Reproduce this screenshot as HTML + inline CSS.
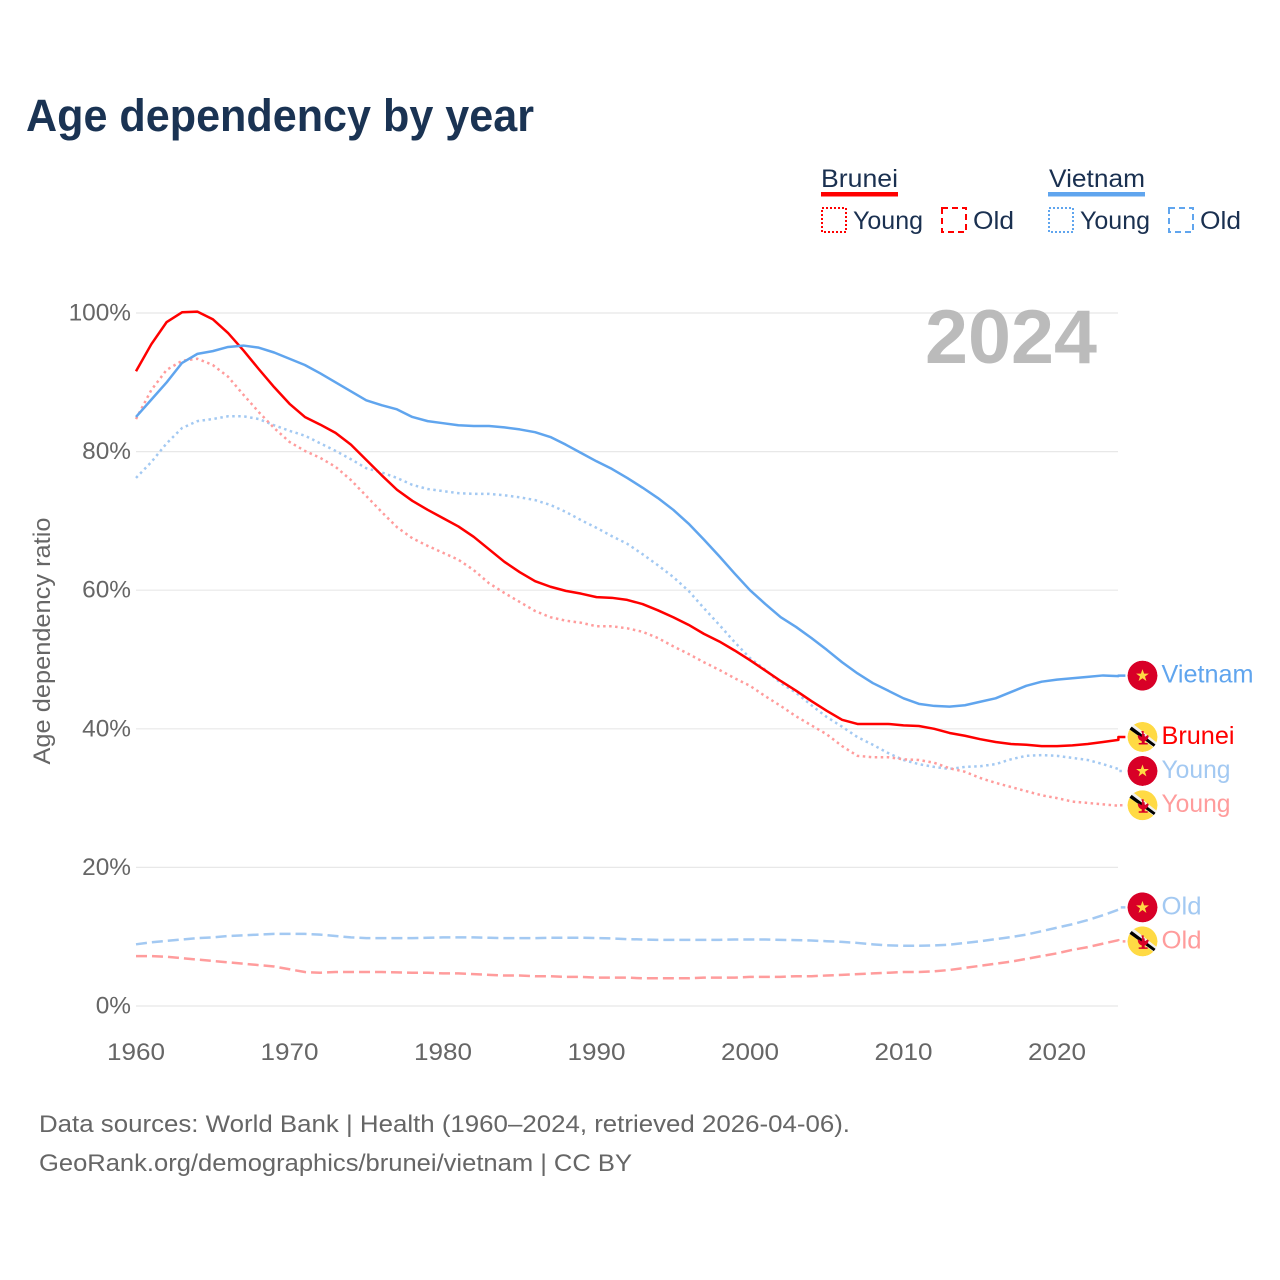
<!DOCTYPE html>
<html>
<head>
<meta charset="utf-8">
<title>Age dependency by year</title>
<style>
html,body{margin:0;padding:0;background:#fff;width:1280px;height:1280px;overflow:hidden}
svg{display:block}
text{font-family:"Liberation Sans",sans-serif}
.legend{font-size:25px;fill:#1a3050}
.tick{font-size:24.4px;fill:#666}
.foot{font-size:24.5px;fill:#666}
.end{font-size:25px}
</style>
</head>
<body>
<svg id="chart" width="1280" height="1280" viewBox="0 0 1280 1280" xmlns="http://www.w3.org/2000/svg">
  <rect width="1280" height="1280" fill="#fff"/>
  <text x="26" y="131" font-size="45" font-weight="700" fill="#1a3353" textLength="508" lengthAdjust="spacingAndGlyphs">Age dependency by year</text>

  <g>
    <text class="legend" x="821" y="187" textLength="77" lengthAdjust="spacingAndGlyphs">Brunei</text>
    <rect x="821" y="192" width="77" height="4.5" fill="#ff0000"/>
    <rect x="822" y="208" width="24" height="24" fill="none" stroke="#ff0000" stroke-width="2" stroke-dasharray="2 2"/>
    <text class="legend" x="853" y="229" textLength="70" lengthAdjust="spacingAndGlyphs">Young</text>
    <rect x="942" y="208" width="24" height="24" fill="none" stroke="#ff0000" stroke-width="2" stroke-dasharray="6 4"/>
    <text class="legend" x="973" y="229" textLength="41" lengthAdjust="spacingAndGlyphs">Old</text>
    <text class="legend" x="1049" y="187" textLength="96" lengthAdjust="spacingAndGlyphs">Vietnam</text>
    <rect x="1048" y="192" width="97" height="4.5" fill="#60a5ee"/>
    <rect x="1049" y="208" width="24" height="24" fill="none" stroke="#60a5ee" stroke-width="2" stroke-dasharray="2 2"/>
    <text class="legend" x="1080" y="229" textLength="70" lengthAdjust="spacingAndGlyphs">Young</text>
    <rect x="1169" y="208" width="24" height="24" fill="none" stroke="#60a5ee" stroke-width="2" stroke-dasharray="6 4"/>
    <text class="legend" x="1200" y="229" textLength="41" lengthAdjust="spacingAndGlyphs">Old</text>
  </g>

  <g id="grid"></g>
  <g id="yticks"></g>
  <g id="xticks"></g>

  <text transform="translate(50 641) rotate(-90)" text-anchor="middle" font-size="24" fill="#666" textLength="247" lengthAdjust="spacingAndGlyphs">Age dependency ratio</text>
  <text x="1097" y="363" text-anchor="end" font-size="76" font-weight="700" fill="#bbbbbb" textLength="172" lengthAdjust="spacingAndGlyphs">2024</text>

  <g id="series"></g>
  <g id="endlabels"></g>

  <text class="foot" x="39" y="1132" textLength="811" lengthAdjust="spacingAndGlyphs">Data sources: World Bank | Health (1960–2024, retrieved 2026-04-06).</text>
  <text class="foot" x="39" y="1171" textLength="593" lengthAdjust="spacingAndGlyphs">GeoRank.org/demographics/brunei/vietnam | CC BY</text>
</svg>

<script>
const firstYear = 1960;
const yTickValues = [0, 20, 40, 60, 80, 100];
const yTickLabels = ['0%', '20%', '40%', '60%', '80%', '100%'];
const xTickValues = [1960, 1970, 1980, 1990, 2000, 2010, 2020];

const bruneiTotal = [
  91.6,95.5,98.7,100.1,100.2,99.1,97.1,94.6,91.9,89.3,
  86.9,85.0,83.9,82.7,81.0,78.8,76.6,74.5,72.9,71.6,
  70.4,69.2,67.7,65.9,64.1,62.6,61.3,60.5,59.9,59.5,
  59.0,58.9,58.6,58.0,57.1,56.1,55.0,53.7,52.6,51.3,
  49.9,48.4,46.9,45.5,44.0,42.6,41.3,40.7,40.7,40.7,
  40.5,40.4,40.0,39.4,39.0,38.5,38.1,37.8,37.7,37.5,
  37.5,37.6,37.8,38.1,38.4
];
const vietnamTotal = [
  85.0,87.5,90.0,92.8,94.1,94.5,95.1,95.3,95.0,94.3,
  93.4,92.5,91.3,90.0,88.7,87.4,86.7,86.1,85.0,84.4,
  84.1,83.8,83.7,83.7,83.5,83.2,82.8,82.1,81.0,79.8,
  78.6,77.5,76.2,74.8,73.3,71.6,69.6,67.3,64.9,62.4,
  60.0,58.0,56.1,54.7,53.1,51.4,49.6,48.0,46.6,45.5,
  44.4,43.6,43.3,43.2,43.4,43.9,44.4,45.3,46.2,46.8,
  47.1,47.3,47.5,47.7,47.6
];
const bruneiYoung = [
  84.7,88.9,91.8,93.1,93.4,92.5,90.8,88.2,85.7,83.4,
  81.4,80.1,79.1,77.8,75.9,73.6,71.3,69.1,67.5,66.4,
  65.4,64.4,62.9,61.0,59.6,58.3,57.0,56.1,55.6,55.3,
  54.8,54.8,54.5,54.0,53.1,51.9,50.8,49.6,48.5,47.3,
  46.2,44.7,43.3,41.8,40.5,39.2,37.5,36.1,35.9,35.9,
  35.6,35.5,35.1,34.3,33.8,32.9,32.2,31.6,31.0,30.4,
  30.0,29.5,29.3,29.1,28.9
];
const vietnamYoung = [
  76.2,78.5,81.2,83.4,84.4,84.7,85.1,85.1,84.7,83.8,
  83.0,82.3,81.2,80.1,78.9,77.6,77.0,76.2,75.2,74.6,
  74.3,74.0,73.9,73.9,73.7,73.4,73.0,72.3,71.3,70.1,
  69.0,67.8,66.7,65.2,63.6,61.9,59.9,57.4,55.0,52.5,
  50.2,48.5,46.6,45.2,43.4,41.7,40.3,38.8,37.7,36.5,
  35.5,34.9,34.5,34.2,34.5,34.6,34.9,35.6,36.1,36.2,
  36.1,35.8,35.5,34.9,34.2
];
const bruneiOld = [
  7.2,7.2,7.1,6.9,6.7,6.5,6.3,6.1,5.9,5.7,
  5.3,4.9,4.8,4.9,4.9,4.9,4.9,4.85,4.8,4.8,
  4.7,4.7,4.6,4.5,4.4,4.4,4.3,4.3,4.2,4.2,
  4.1,4.1,4.1,4.0,4.0,4.0,4.0,4.1,4.1,4.1,
  4.2,4.2,4.2,4.3,4.3,4.4,4.5,4.6,4.7,4.8,
  4.9,4.9,5.0,5.2,5.5,5.8,6.1,6.4,6.8,7.2,
  7.6,8.1,8.5,9.0,9.5
];
const vietnamOld = [
  8.9,9.2,9.4,9.6,9.8,9.9,10.1,10.2,10.3,10.4,
  10.4,10.4,10.3,10.1,9.9,9.8,9.8,9.8,9.8,9.85,
  9.9,9.9,9.9,9.85,9.8,9.8,9.8,9.85,9.85,9.85,
  9.8,9.75,9.65,9.6,9.55,9.55,9.55,9.55,9.55,9.6,
  9.6,9.6,9.55,9.5,9.45,9.35,9.25,9.1,8.9,8.75,
  8.7,8.7,8.75,8.85,9.1,9.35,9.65,9.95,10.3,10.8,
  11.3,11.8,12.4,13.1,13.9
];

const NS = 'http://www.w3.org/2000/svg';
function xScale(year) { return 136 + (year - 1960) * 15.35; }
function yScale(v) { return 1006 - v * 6.93; }
function make(tag, parent) {
  const el = document.createElementNS(NS, tag);
  parent.appendChild(el);
  return el;
}

const gridG = document.getElementById('grid');
const yG = document.getElementById('yticks');
yTickValues.forEach(function (v, i) {
  const line = make('line', gridG);
  
  
  line.setAttribute('x1', 136);
  line.setAttribute('x2', 1118);
  line.setAttribute('y1', yScale(v));
  line.setAttribute('y2', yScale(v));
  line.setAttribute('stroke', '#e8e8e8');
  line.setAttribute('stroke-width', 1.2);
  const t = make('text', yG);
  
  
  t.setAttribute('class', 'tick');
  t.setAttribute('x', 131);
  t.setAttribute('y', yScale(v) + 7.5);
  t.setAttribute('text-anchor', 'end');
  t.textContent = yTickLabels[i];
});

const xG = document.getElementById('xticks');
xTickValues.forEach(function (year) {
  const t = make('text', xG);
  
  
  t.setAttribute('class', 'tick');
  t.setAttribute('x', xScale(year));
  t.setAttribute('y', 1060);
  t.setAttribute('text-anchor', 'middle');
  t.setAttribute('textLength', 58);
  t.setAttribute('lengthAdjust', 'spacingAndGlyphs');
  t.textContent = String(year);
});

const seriesDefs = [
  { key: 'vietnam-old', values: vietnamOld, color: '#a3c9f2', dash: '11 5', label: 'Old', labelColor: '#a3c9f2', labelWidth: 40, flag: 'vn' },
  { key: 'brunei-old', values: bruneiOld, color: '#ff9c9c', dash: '11 5', label: 'Old', labelColor: '#ff9c9c', labelWidth: 40, flag: 'bn' },
  { key: 'vietnam-young', values: vietnamYoung, color: '#a3c9f2', dash: '2.5 3.5', label: 'Young', labelColor: '#a3c9f2', labelWidth: 69, flag: 'vn' },
  { key: 'brunei-young', values: bruneiYoung, color: '#ff9c9c', dash: '2.5 3.5', label: 'Young', labelColor: '#ff9c9c', labelWidth: 69, flag: 'bn' },
  { key: 'brunei-total', values: bruneiTotal, color: '#ff0000', dash: null, label: 'Brunei', labelColor: '#ff0000', labelWidth: 73, flag: 'bn' },
  { key: 'vietnam-total', values: vietnamTotal, color: '#60a5ee', dash: null, label: 'Vietnam', labelColor: '#60a5ee', labelWidth: 92, flag: 'vn' }
];

/* end-label placement: start at the last value and push overlapping labels apart */
const minGap = 34;
const ordered = seriesDefs.slice().sort(function (a, b) {
  return yScale(a.values[a.values.length - 1]) - yScale(b.values[b.values.length - 1]);
});
ordered.forEach(function (s) { s.labelY = yScale(s.values[s.values.length - 1]) - 0.5; });
for (let pass = 0; pass < 40; pass++) {
  for (let i = 1; i < ordered.length; i++) {
    const gap = ordered[i].labelY - ordered[i - 1].labelY;
    if (gap < minGap) {
      const shift = (minGap - gap) / 2;
      ordered[i - 1].labelY -= shift;
      ordered[i].labelY += shift;
    }
  }
}

const seriesG = document.getElementById('series');
const labelG = document.getElementById('endlabels');

seriesDefs.forEach(function (s) {
  const pts = s.values.map(function (v, i) {
    return xScale(firstYear + i).toFixed(2) + ',' + yScale(v).toFixed(2);
  });
  const lastX = xScale(firstYear + s.values.length - 1);
  pts.push(lastX.toFixed(2) + ',' + s.labelY.toFixed(2));
  pts.push((lastX + 7).toFixed(2) + ',' + s.labelY.toFixed(2));
  const path = make('polyline', seriesG);
  
  
  path.setAttribute('points', pts.join(' '));
  path.setAttribute('fill', 'none');
  path.setAttribute('stroke', s.color);
  path.setAttribute('stroke-width', 2.5);
  path.setAttribute('stroke-linejoin', 'round');
  if (s.dash) path.setAttribute('stroke-dasharray', s.dash);
});

function drawFlag(parent, code, cy, idx) {
  const cx = 1142.5, r = 15;
  const g = make('g', parent);
  
  
  g.setAttribute('transform', 'translate(' + cx + ' ' + cy + ')');
  const clip = make('clipPath', g);
  clip.setAttribute('id', 'flag-clip-' + idx);
  const cc = make('circle', clip);
  cc.setAttribute('r', r);
  const inner = make('g', g);
  inner.setAttribute('clip-path', 'url(#flag-clip-' + idx + ')');
  const bg = make('circle', inner);
  bg.setAttribute('r', r);
  if (code === 'vn') {
    bg.setAttribute('fill', '#d80027');
    const star = make('polygon', inner);
    star.setAttribute('points', '0,-6.5 1.6,-2 6.4,-2 2.5,0.9 3.9,5.4 0,2.6 -3.9,5.4 -2.5,0.9 -6.4,-2 -1.6,-2');
    star.setAttribute('fill', '#ffda44');
  } else {
    bg.setAttribute('fill', '#ffda44');
    const white = make('polygon', inner);
    white.setAttribute('points', '-16,-10 -12,-15 16,7 13,12');
    white.setAttribute('fill', '#f0f0f0');
    const black = make('polygon', inner);
    black.setAttribute('points', '-15,-9 -13,-12 15,9 13,11');
    black.setAttribute('fill', '#000000');
    const em = make('path', inner);
    em.setAttribute('d', 'M-1.2,-6 h2.4 v3 h1 v3 l3,-2 l1,1 c-0.5,3 -2,4.5 -4,5 v2 h3 v1.5 h-9 v-1.5 h3 v-2 c-2,-0.5 -3.5,-2 -4,-5 l1,-1 l3,2 v-3 h0.6 z');
    em.setAttribute('fill', '#d80027');
  }
}

seriesDefs.forEach(function (s, idx) {
  drawFlag(labelG, s.flag, s.labelY, idx);
  const t = make('text', labelG);
  
  
  t.setAttribute('class', 'end');
  t.setAttribute('x', 1161.5);
  t.setAttribute('y', s.labelY + 7);
  t.setAttribute('fill', s.labelColor);
  t.setAttribute('textLength', s.labelWidth);
  t.setAttribute('lengthAdjust', 'spacingAndGlyphs');
  t.textContent = s.label;
});
</script>
</body>
</html>
